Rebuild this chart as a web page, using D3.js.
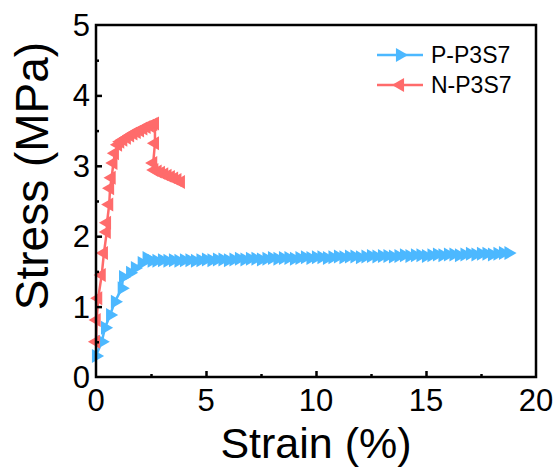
<!DOCTYPE html>
<html>
<head>
<meta charset="utf-8">
<script src="https://cdn.jsdelivr.net/npm/d3@7"></script>
<style>
  body { margin: 0; background: #fff; }
  svg text { font-family: "Liberation Sans", Arial, sans-serif; fill: #000; }
</style>
</head>
<body>
<svg width="557" height="475"></svg>
<script>
// stress-strain curves, values
var seriesNames = ['P-P3S7', 'N-P3S7'];
var seriesColors = ['#4cb8ff', '#ff6b6b'];

var pStrain = [0, 0.26, 0.41, 0.64, 0.86, 1.17, 1.23, 1.55, 1.77, 2.08, 2.3, 2.53,
    2.75, 3.0, 3.25, 3.5, 3.75, 4.0, 4.25, 4.5, 4.75, 5.0, 5.25, 5.5, 5.75, 6.0, 6.25, 6.5, 6.75,
    7.0, 7.25, 7.5, 7.75, 8.0, 8.25, 8.5, 8.75, 9.0, 9.25, 9.5, 9.75, 10.0, 10.25, 10.5, 10.75,
    11.0, 11.25, 11.5, 11.75, 12.0, 12.25, 12.5, 12.75, 13.0, 13.25, 13.5, 13.75, 14.0, 14.25,
    14.5, 14.75, 15.0, 15.25, 15.5, 15.75, 16.0, 16.25, 16.5, 16.75, 17.0, 17.25, 17.5, 17.75,
    18.0, 18.25, 18.5, 18.75];
var pStress = [0.3, 0.5, 0.7, 0.88, 1.07, 1.26, 1.42, 1.48, 1.55, 1.62, 1.69, 1.65,
    1.65, 1.66, 1.65, 1.66, 1.65, 1.66, 1.66, 1.65, 1.66, 1.67, 1.66, 1.67, 1.67, 1.66, 1.67, 1.68, 1.67,
    1.68, 1.68, 1.67, 1.68, 1.69, 1.68, 1.69, 1.69, 1.68, 1.69, 1.70, 1.69, 1.70, 1.70, 1.69, 1.70,
    1.71, 1.70, 1.71, 1.71, 1.70, 1.71, 1.72, 1.71, 1.72, 1.72, 1.71, 1.72, 1.73, 1.72,
    1.73, 1.73, 1.72, 1.73, 1.74, 1.73, 1.74, 1.74, 1.73, 1.74, 1.75, 1.74, 1.75, 1.75,
    1.74, 1.75, 1.76, 1.76];

var nStrain = [0, 0.03, 0.1, 0.26, 0.36, 0.49, 0.5, 0.6, 0.64, 0.71, 0.79, 0.86, 1.0, 1.1,
    1.24, 1.4, 1.55, 1.7, 1.85, 2.0, 2.15, 2.3, 2.45, 2.6, 2.68, 2.68, 2.6, 2.65, 2.8, 2.95,
    3.1, 3.25, 3.4, 3.55, 3.7, 3.86];
var nStress = [0.5, 0.81, 1.12, 1.45, 1.76, 2.06, 2.19, 2.45, 2.68, 2.83, 3.04, 3.18, 3.3, 3.34,
    3.37, 3.4, 3.43, 3.46, 3.48, 3.5, 3.53, 3.55, 3.57, 3.59, 3.6, 3.32, 3.04, 2.94, 2.92, 2.9,
    2.88, 2.86, 2.84, 2.82, 2.8, 2.77];

var xTicks = [0, 5, 10, 15, 20];
var yTicks = [0, 1, 2, 3, 4, 5];

var svg = d3.select('svg');
var plotLeft = 96, plotRight = 536, plotTop = 25, plotBottom = 377;

var xScale = d3.scaleLinear().domain([0, 20]).range([plotLeft, plotRight]);
var yScale = d3.scaleLinear().domain([0, 5]).range([plotBottom, plotTop]);

var series = [
    {name: seriesNames[0], color: seriesColors[0], dir: 90,
        pts: pStrain.map(function (x, i) { return [x, pStress[i]]; })},
    {name: seriesNames[1], color: seriesColors[1], dir: -90,
        pts: nStrain.map(function (x, i) { return [x, nStress[i]]; })}
];

var line = d3.line()
    .x(function (d) { return xScale(d[0]); })
    .y(function (d) { return yScale(d[1]); });
var tri = d3.symbol().type(d3.symbolTriangle).size(85);

// curves: P drawn first, N on top
series.forEach(function (s) {
    var g = svg.append('g');
    g.append('path')
        .attr('d', line(s.pts))
        .attr('fill', 'none')
        .attr('stroke', s.color)
        .attr('stroke-width', 2.5);
    g.selectAll('path.m')
        .data(s.pts)
        .enter()
        .append('path')
        .attr('class', 'm')
        .attr('d', tri)
        .attr('fill', s.color)
        .attr('transform', function (d) {
            return 'translate(' + xScale(d[0]) + ',' + yScale(d[1]) + ') rotate(' + s.dir + ')';
        });
});

// axes, ticks pointing inward
var xAxis = d3.axisTop(xScale).tickValues(xTicks.slice(1, -1)).tickSize(6).tickFormat('');
var xMinor = d3.axisTop(xScale).tickValues([2.5, 7.5, 12.5, 17.5]).tickSize(3).tickFormat('');
var yAxis = d3.axisRight(yScale).tickValues(yTicks.slice(1, -1)).tickSize(6).tickFormat('');
var yMinor = d3.axisRight(yScale).tickValues([0.5, 1.5, 2.5, 3.5, 4.5]).tickSize(3).tickFormat('');

[[xAxis, 'translate(0,' + plotBottom + ')'], [xMinor, 'translate(0,' + plotBottom + ')'],
    [yAxis, 'translate(' + plotLeft + ',0)'], [yMinor, 'translate(' + plotLeft + ',0)']].forEach(function (a) {
    var g = svg.append('g').attr('transform', a[1]).call(a[0]);
    g.select('.domain').remove();
    g.selectAll('line').attr('stroke', '#000').attr('stroke-width', 2.5);
});

svg.append('rect')
    .attr('x', plotLeft).attr('y', plotTop)
    .attr('width', plotRight - plotLeft).attr('height', plotBottom - plotTop)
    .attr('fill', 'none')
    .attr('stroke', '#000')
    .attr('stroke-width', 2.5);

// tick labels
svg.selectAll('text.xt')
    .data(xTicks)
    .enter()
    .append('text')
    .attr('class', 'xt')
    .attr('x', function (d) { return xScale(d); })
    .attr('y', plotBottom + 34)
    .attr('text-anchor', 'middle')
    .style('font-size', '31px')
    .text(function (d) { return d; });

svg.selectAll('text.yt')
    .data(yTicks)
    .enter()
    .append('text')
    .attr('class', 'yt')
    .attr('x', plotLeft - 6)
    .attr('y', function (d) { return yScale(d) + 11; })
    .attr('text-anchor', 'end')
    .style('font-size', '31px')
    .text(function (d) { return d; });

// axis titles
svg.append('text')
    .attr('x', (plotLeft + plotRight) / 2)
    .attr('y', 458)
    .attr('text-anchor', 'middle')
    .style('font-size', '43px')
    .text('Strain (%)');

svg.append('text')
    .attr('transform', 'translate(48,176) rotate(-90)')
    .attr('text-anchor', 'middle')
    .style('font-size', '46px')
    .text('Stress (MPa)');

// legend
var legend = svg.append('g');
series.forEach(function (s, i) {
    var ly = 55 + i * 30;
    legend.append('line')
        .attr('x1', 377).attr('x2', 423)
        .attr('y1', ly).attr('y2', ly)
        .attr('stroke', s.color)
        .attr('stroke-width', 2.5);
    legend.append('path')
        .attr('d', tri)
        .attr('fill', s.color)
        .attr('transform', 'translate(400,' + ly + ') rotate(' + s.dir + ')');
    legend.append('text')
        .attr('x', 431)
        .attr('y', ly + 8)
        .style('font-size', '23px')
        .text(s.name);
});
</script>
</body>
</html>
